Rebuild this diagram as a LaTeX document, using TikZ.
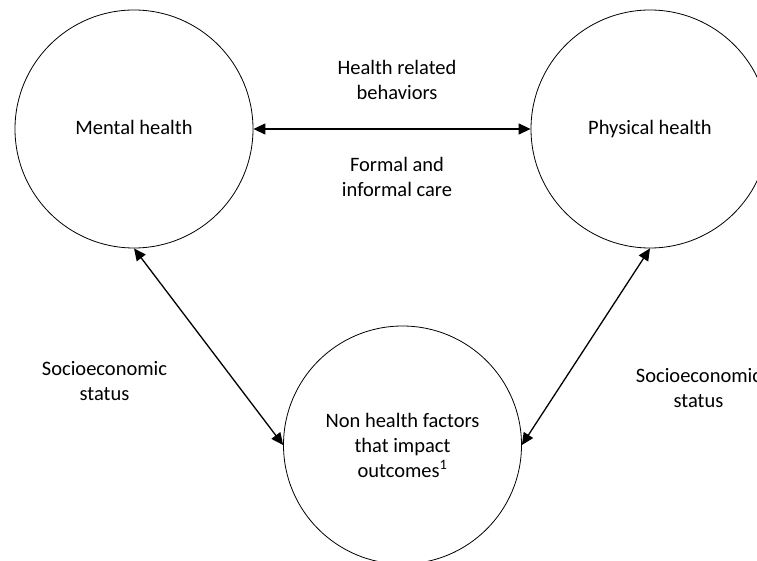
\documentclass[tikz,border=0pt]{standalone}
\usepackage{fontspec}
\setmainfont{Carlito}
\usetikzlibrary{arrows.meta}
\begin{document}
\begin{tikzpicture}[x=1pt,y=-1pt,
  every node/.style={font=\fontsize{20.5}{25}\selectfont, align=center, inner sep=0pt},
  bubble/.style={circle, draw, line width=0.8pt, minimum size=238pt},
  label/.style={},
  link/.style={line width=1.3pt, {Triangle[length=12pt,width=11pt]}-{Triangle[length=12pt,width=11pt]}}]
  \useasboundingbox (0,0) rectangle (757,561);
  \clip (0,0) rectangle (757,561);

  % the three domains
  \node[bubble] (mental) at (134,129) {Mental health\vphantom{Py}};
  \node[bubble] (physical) at (650,129) {Physical health\vphantom{Py}};
  \node[bubble] (nonhealth) at (402.5,445) {Non health factors\\that impact\\outcomes\textsuperscript{1}};

  % pathways between them
  \draw[link] (mental.east) -- (physical.west);
  \draw[link] (mental.south) -- (nonhealth.west);
  \draw[link] (physical.south) -- (nonhealth.east);

  % pathway labels
  \node[label] (behav) at (397,80) {Health related\\behaviors};
  \node[label] (care) at (397,176.5) {Formal and\\informal care};
  \node[label] (sesl) at (104.5,381.5) {Socioeconomic\\status};
  \node[label] (sesr) at (698.5,388.5) {Socioeconomic\\status};
\end{tikzpicture}
\end{document}
